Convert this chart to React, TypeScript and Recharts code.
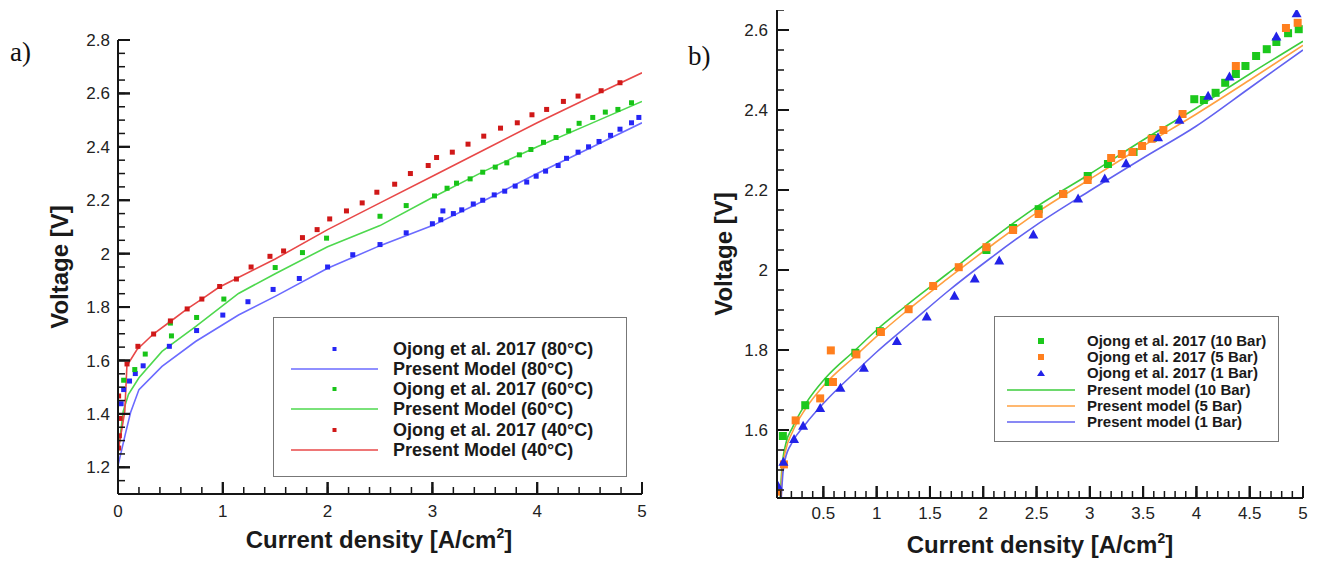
import React from "react";
import { ScatterChart, Scatter, XAxis, YAxis } from "recharts";

// ---------- Panel a data (temperature) ----------
const aExp80: [number, number][] = [
  [0.03, 1.438], [0.054, 1.491], [0.11, 1.523], [0.165, 1.551], [0.24, 1.58], [0.49, 1.653], [0.75, 1.712],
  [1.0, 1.77], [1.24, 1.82], [1.48, 1.866], [1.73, 1.907], [2.0, 1.95], [2.24, 1.996], [2.5, 2.034],
  [2.75, 2.078], [3.0, 2.112], [3.08, 2.127], [3.1, 2.16], [3.2, 2.15], [3.28, 2.164], [3.39, 2.186],
  [3.48, 2.2], [3.59, 2.22], [3.69, 2.234], [3.79, 2.253], [3.9, 2.268], [3.99, 2.29], [4.08, 2.309],
  [4.2, 2.33], [4.28, 2.357], [4.39, 2.38], [4.49, 2.4], [4.59, 2.42], [4.7, 2.443], [4.79, 2.466],
  [4.9, 2.49], [4.97, 2.51],
];
const aExp60: [number, number][] = [
  [0.054, 1.526], [0.16, 1.566], [0.26, 1.624], [0.5, 1.74], [0.51, 1.692], [0.75, 1.761], [1.01, 1.83],
  [1.5, 1.948], [1.76, 2.004], [1.99, 2.058], [2.5, 2.14], [2.75, 2.18], [3.02, 2.216], [3.14, 2.245],
  [3.23, 2.264], [3.36, 2.28], [3.48, 2.305], [3.6, 2.324], [3.71, 2.34], [3.83, 2.37], [3.94, 2.39],
  [4.06, 2.417], [4.18, 2.435], [4.3, 2.46], [4.4, 2.488], [4.53, 2.51], [4.65, 2.53], [4.77, 2.54],
  [4.9, 2.565],
];
const aExp40: [number, number][] = [
  [0.006, 1.272], [0.013, 1.318], [0.02, 1.383], [0.006, 1.467], [0.086, 1.587], [0.19, 1.653],
  [0.34, 1.699], [0.5, 1.748], [0.66, 1.793], [0.8, 1.83], [0.97, 1.877], [1.13, 1.905], [1.27, 1.95],
  [1.45, 1.99], [1.58, 2.01], [1.76, 2.06], [1.9, 2.09], [2.02, 2.13], [2.18, 2.16], [2.33, 2.19],
  [2.47, 2.23], [2.64, 2.26], [2.79, 2.3], [2.96, 2.33], [3.04, 2.36], [3.19, 2.38], [3.34, 2.41],
  [3.49, 2.44], [3.65, 2.47], [3.81, 2.49], [3.95, 2.52], [4.09, 2.54], [4.25, 2.57], [4.39, 2.59],
  [4.61, 2.61], [4.79, 2.64],
];
const aModel80: [number, number][] = [
  [0, 1.206], [0.07, 1.324], [0.12, 1.405], [0.2, 1.491], [0.42, 1.578], [0.74, 1.671], [1.15, 1.77],
  [1.5, 1.84], [2, 1.945], [2.5, 2.03], [3, 2.105], [3.5, 2.2], [4, 2.3], [4.5, 2.395], [5, 2.49],
];
const aModel60: [number, number][] = [
  [0, 1.25], [0.05, 1.41], [0.1, 1.473], [0.2, 1.535], [0.42, 1.634], [0.74, 1.727], [1.15, 1.851],
  [1.5, 1.925], [2, 2.026], [2.5, 2.105], [3, 2.21], [3.5, 2.31], [4, 2.4], [4.5, 2.485], [5, 2.57],
];
const aModel40: [number, number][] = [
  [0, 1.26], [0.04, 1.35], [0.065, 1.41], [0.085, 1.58], [0.18, 1.64], [0.34, 1.7], [0.5, 1.746],
  [0.66, 1.793], [0.8, 1.83], [0.96, 1.873], [1.12, 1.905], [1.5, 1.98], [2, 2.09], [2.5, 2.19],
  [3, 2.29], [3.5, 2.39], [4, 2.49], [4.5, 2.585], [5, 2.677],
];

// ---------- Panel b data (pressure) ----------
const bExp10: [number, number][] = [
  [0.12, 1.585], [0.33, 1.662], [0.55, 1.72], [0.8, 1.793], [1.03, 1.847], [2.03, 2.05], [2.28, 2.105],
  [2.52, 2.152], [2.75, 2.19], [2.98, 2.235], [3.17, 2.265], [3.41, 2.295], [3.59, 2.33], [3.98, 2.427],
  [4.07, 2.425], [4.18, 2.443], [4.27, 2.468], [4.37, 2.49], [4.46, 2.51], [4.56, 2.535], [4.66, 2.552],
  [4.75, 2.57], [4.86, 2.592], [4.96, 2.602],
];
const bExp5: [number, number][] = [
  [0.07, 1.446], [0.13, 1.514], [0.24, 1.624], [0.47, 1.679], [0.57, 1.799], [0.59, 1.72], [0.81, 1.789],
  [1.04, 1.845], [1.3, 1.902], [1.53, 1.96], [1.77, 2.007], [2.03, 2.057], [2.28, 2.1], [2.52, 2.14],
  [2.75, 2.19], [2.98, 2.225], [3.2, 2.28], [3.3, 2.29], [3.4, 2.295], [3.49, 2.31], [3.58, 2.328],
  [3.69, 2.35], [3.87, 2.39], [4.37, 2.51], [4.84, 2.605], [4.95, 2.618],
];
const bExp1: [number, number][] = [
  [0.07, 1.464], [0.125, 1.522], [0.225, 1.579], [0.31, 1.612], [0.47, 1.656], [0.66, 1.707],
  [0.88, 1.757], [1.19, 1.824], [1.47, 1.885], [1.73, 1.937], [1.92, 1.98], [2.15, 2.025], [2.47, 2.09],
  [2.89, 2.18], [3.14, 2.23], [3.34, 2.268], [3.64, 2.333], [3.84, 2.377], [4.11, 2.437], [4.31, 2.485],
  [4.75, 2.585], [4.94, 2.643],
];
const bModel10: [number, number][] = [
  [0.095, 1.43], [0.11, 1.5], [0.147, 1.565], [0.21, 1.606], [0.33, 1.664], [0.52, 1.73], [0.8, 1.8],
  [1.0, 1.85], [1.25, 1.905], [1.66, 1.99], [2.07, 2.075], [2.5, 2.158], [3, 2.24], [3.5, 2.325],
  [4, 2.405], [4.5, 2.49], [5, 2.572],
];
const bModel5: [number, number][] = [
  [0.1, 1.43], [0.115, 1.5], [0.147, 1.55], [0.21, 1.595], [0.33, 1.652], [0.52, 1.716], [0.8, 1.785],
  [1.0, 1.834], [1.27, 1.895], [1.66, 1.977], [2.07, 2.06], [2.5, 2.143], [3, 2.227], [3.5, 2.31],
  [4, 2.39], [4.5, 2.475], [5, 2.562],
];
const bModel1: [number, number][] = [
  [0.105, 1.43], [0.12, 1.49], [0.14, 1.525], [0.21, 1.57], [0.33, 1.614], [0.52, 1.672], [0.8, 1.745],
  [1.0, 1.795], [1.33, 1.87], [1.66, 1.945], [2.07, 2.03], [2.5, 2.113], [3, 2.198], [3.5, 2.28],
  [4, 2.36], [4.5, 2.455], [5, 2.55],
];

// ---------- Ticks ----------
const aXMajor = [0, 1, 2, 3, 4, 5];
const aYMajor = [1.2, 1.4, 1.6, 1.8, 2, 2.2, 2.4, 2.6, 2.8];
const bXMajor = [0.5, 1, 1.5, 2, 2.5, 3, 3.5, 4, 4.5, 5];
const bYMajor = [1.6, 1.8, 2, 2.2, 2.4, 2.6];

const range = (from: number, to: number, step: number) => {
  const out: number[] = [];
  const n = Math.round((to - from) / step);
  for (let i = 0; i <= n; i++) out.push(Math.round((from + i * step) * 1000) / 1000);
  return out;
};
const aXMinor = range(0, 5, 0.2);
const aYMinor = range(1.1, 2.8, 0.05);
const bXMinor = range(0.1, 5, 0.1);
const bYMinor = range(1.45, 2.65, 0.05);

const toXY = (arr: [number, number][]) => arr.map(([x, y]) => ({ x, y }));

const FONT = "Liberation Sans, Arial, Helvetica, sans-serif";
const AXIS_COLOR = "#151515";

const square = (size: number, color: string) => (p: any) =>
  <rect x={p.cx - size / 2} y={p.cy - size / 2} width={size} height={size} fill={color} />;
const triangle = (size: number, color: string) => (p: any) => {
  const h = size * 0.9;
  return (
    <path
      d={`M${p.cx},${p.cy - h / 2} L${p.cx + size / 2},${p.cy + h / 2} L${p.cx - size / 2},${p.cy + h / 2} Z`}
      fill={color}
    />
  );
};
const noShape = () => <g />;

// tick-mark shapes (placed at tick values through the chart scales, pointing into the plot)
const xTickMark = (len: number, w: number) => (p: any) =>
  <rect x={p.cx - w / 2} y={p.cy - len} width={w} height={len} fill={AXIS_COLOR} />;
const yTickMark = (len: number, w: number) => (p: any) =>
  <rect x={p.cx} y={p.cy - w / 2} width={len} height={w} fill={AXIS_COLOR} />;

const aSeries = [
  { name: "Ojong et al. 2017 (80°C)", data: aExp80, kind: "sq", color: "#2525f5" },
  { name: "Present Model (80°C)", data: aModel80, kind: "line", color: "#6b6bff" },
  { name: "Ojong et al. 2017 (60°C)", data: aExp60, kind: "sq", color: "#18c418" },
  { name: "Present Model (60°C)", data: aModel60, kind: "line", color: "#4ed84e" },
  { name: "Ojong et al. 2017 (40°C)", data: aExp40, kind: "sq", color: "#d01818" },
  { name: "Present Model (40°C)", data: aModel40, kind: "line", color: "#e84848" },
];
const bSeries = [
  { name: "Ojong et al. 2017 (10 Bar)", data: bExp10, kind: "sq", color: "#1cc81c" },
  { name: "Ojong et al. 2017 (5 Bar)", data: bExp5, kind: "sq", color: "#ff7f1e" },
  { name: "Ojong et al. 2017 (1 Bar)", data: bExp1, kind: "tri", color: "#2222e8" },
  { name: "Present model (10 Bar)", data: bModel10, kind: "line", color: "#3ccc3c" },
  { name: "Present model (5 Bar)", data: bModel5, kind: "line", color: "#ffa040" },
  { name: "Present model (1 Bar)", data: bModel1, kind: "line", color: "#6262f0" },
];

const renderSeries = (series: typeof aSeries, ptSize: number, smooth: boolean) => {
  const lines = series.filter((s) => s.kind === "line");
  const pts = series.filter((s) => s.kind !== "line");
  return [
    ...lines.map((s) => (
      <Scatter
        key={s.name}
        name={s.name}
        data={toXY(s.data)}
        line={{ stroke: s.color, strokeWidth: 1.6 }}
        lineType="joint"
        lineJointType={smooth ? "monotoneX" : "linear"}
        shape={noShape}
        isAnimationActive={false}
      />
    )),
    ...pts.map((s) => (
      <Scatter
        key={s.name}
        name={s.name}
        data={toXY(s.data)}
        shape={s.kind === "tri" ? triangle(ptSize + 2, s.color) : square(ptSize, s.color)}
        fill={s.color}
        isAnimationActive={false}
      />
    )),
  ];
};

const renderTickMarks = (xDomain: number[], yDomain: number[], xMajor: number[], xMinor: number[], yMajor: number[], yMinor: number[]) => [
  <Scatter key="xmin-ticks" data={xMinor.map((v) => ({ x: v, y: yDomain[0] }))} shape={xTickMark(7, 1.5)} fill={AXIS_COLOR} isAnimationActive={false} />,
  <Scatter key="xmaj-ticks" data={xMajor.map((v) => ({ x: v, y: yDomain[0] }))} shape={xTickMark(12, 2)} fill={AXIS_COLOR} isAnimationActive={false} />,
  <Scatter key="ymin-ticks" data={yMinor.map((v) => ({ x: xDomain[0], y: v }))} shape={yTickMark(7, 1.5)} fill={AXIS_COLOR} isAnimationActive={false} />,
  <Scatter key="ymaj-ticks" data={yMajor.map((v) => ({ x: xDomain[0], y: v }))} shape={yTickMark(12, 2)} fill={AXIS_COLOR} isAnimationActive={false} />,
];

const LegendBox = ({ series, left, top, width, height, rows, lineX1, lineX2, textX, fontSize, symSize }: any) => (
  <div
    style={{
      position: "absolute", left, top, width, height, border: "1px solid #777", boxSizing: "border-box",
      background: "#fff",
    }}
  >
    <svg width={width} height={height} style={{ position: "absolute", left: -1, top: -1 }}>
      {series.map((s: any, i: number) => {
        const cy = rows[i];
        const cx = (lineX1 + lineX2) / 2;
        return (
          <g key={s.name}>
            {s.kind === "line" && <line x1={lineX1} x2={lineX2} y1={cy} y2={cy} stroke={s.color} strokeWidth={1.6} />}
            {s.kind === "sq" && <rect x={cx - symSize / 2} y={cy - symSize / 2} width={symSize} height={symSize} fill={s.color} />}
            {s.kind === "tri" && (
              <path d={`M${cx},${cy - symSize / 2} L${cx + symSize / 2 + 1},${cy + symSize / 2} L${cx - symSize / 2 - 1},${cy + symSize / 2} Z`} fill={s.color} />
            )}
            <text x={textX} y={cy} dy="0.36em" fontSize={fontSize} fontWeight="bold" fill="#1a1a1a" fontFamily={FONT}>
              {s.name}
            </text>
          </g>
        );
      })}
    </svg>
  </div>
);

const axisLineStyle = { stroke: AXIS_COLOR, strokeWidth: 2 };
const tickText = { fontSize: 17, fill: "#222", fontFamily: FONT };

// Chart that carries the axis lines and tick labels (drawn over the data chart, same plot box)
const AxisChart = ({ width, height, margin, xDomain, yDomain, xMajor, yMajor, xGap, yGap, anchor }: any) => (
  <ScatterChart width={width} height={height} margin={margin}>
    <XAxis type="number" dataKey="x" domain={xDomain} ticks={xMajor} interval={0} height={1}
      tickSize={-12} tickMargin={xGap} tickLine={{ stroke: AXIS_COLOR, strokeWidth: 2 }}
      axisLine={axisLineStyle} tick={tickText} />
    <YAxis type="number" dataKey="y" domain={yDomain} ticks={yMajor} interval={0} width={1}
      tickSize={-12} tickMargin={yGap} tickLine={{ stroke: AXIS_COLOR, strokeWidth: 2 }}
      axisLine={axisLineStyle} tick={tickText} />
    <Scatter data={toXY(anchor)} shape={noShape} isAnimationActive={false} />
  </ScatterChart>
);

const titleStyle: React.CSSProperties = {
  position: "absolute", fontFamily: FONT, fontWeight: "bold", fontSize: 24, color: "#1a1a1a",
  whiteSpace: "nowrap", lineHeight: "28px",
};

export default function App() {
  return (
    <div style={{ position: "absolute", left: 0, top: 0, width: 1317, height: 561, background: "#fff" }}>
      {/* Titles */}
      <div style={{ position: "absolute", left: 10, top: 36, fontFamily: "Liberation Serif, Times New Roman, serif", fontSize: 27, color: "#111", lineHeight: "32px" }}>a)</div>
      <div style={{ position: "absolute", left: 688, top: 40, fontFamily: "Liberation Serif, Times New Roman, serif", fontSize: 27, color: "#111", lineHeight: "32px" }}>b)</div>
      <div style={{ ...titleStyle, left: 179, top: 526, width: 400, textAlign: "center" }}>
        Current density [A/cm<sup style={{ fontSize: 14, verticalAlign: "10px", lineHeight: 0 }}>2</sup>]
      </div>
      <div style={{ ...titleStyle, left: 840, top: 531, width: 400, textAlign: "center" }}>
        Current density [A/cm<sup style={{ fontSize: 14, verticalAlign: "10px", lineHeight: 0 }}>2</sup>]
      </div>
      <div style={{ ...titleStyle, left: 60 - 100, top: 267 - 14, width: 200, textAlign: "center", transform: "rotate(-90deg)" }}>
        Voltage [V]
      </div>
      <div style={{ ...titleStyle, left: 724 - 100, top: 254 - 14, width: 200, textAlign: "center", transform: "rotate(-90deg)" }}>
        Voltage [V]
      </div>

      {/* Panel a: data + tick marks */}
      <div style={{ position: "absolute", left: 0, top: 0 }}>
        <ScatterChart width={700} height={561} margin={{ top: 40, left: 118, right: 58, bottom: 67 }}>
          <XAxis type="number" dataKey="x" domain={[0, 5]} hide allowDataOverflow />
          <YAxis type="number" dataKey="y" domain={[1.1, 2.8]} hide allowDataOverflow />
          {renderSeries(aSeries, 5, false)}
          {renderTickMarks([0, 5], [1.1, 2.8], aXMajor, aXMinor, aYMajor, aYMinor)}
        </ScatterChart>
      </div>
      {/* Panel b: data + tick marks */}
      <div style={{ position: "absolute", left: 660, top: 0 }}>
        <ScatterChart width={657} height={561} margin={{ top: 10, left: 117, right: 14, bottom: 63 }}>
          <XAxis type="number" dataKey="x" domain={[0.065, 5]} hide allowDataOverflow />
          <YAxis type="number" dataKey="y" domain={[1.43, 2.65]} hide allowDataOverflow />
          {renderSeries(bSeries, 8, true)}
          {renderTickMarks([0.065, 5], [1.43, 2.65], bXMajor, bXMinor, bYMajor, bYMinor)}
        </ScatterChart>
      </div>

      <LegendBox
        series={aSeries} left={273} top={317} width={354} height={160}
        rows={[32, 52, 72, 92, 113, 133]} lineX1={18} lineX2={105} textX={120} fontSize={18} symSize={4}
      />
      <LegendBox
        series={bSeries} left={994} top={316} width={285} height={126}
        rows={[25, 41, 57, 74, 90, 106]} lineX1={13} lineX2={81} textX={93} fontSize={15} symSize={6}
      />

      {/* Panel a: axes */}
      <div style={{ position: "absolute", left: 0, top: 0 }}>
        <AxisChart width={700} height={561} margin={{ top: 40, left: 117, right: 58, bottom: 66 }}
          xDomain={[0, 5]} yDomain={[1.1, 2.8]} xMajor={aXMajor} yMajor={aYMajor}
          xGap={23} yGap={20} anchor={aModel80} />
      </div>
      {/* Panel b: axes */}
      <div style={{ position: "absolute", left: 660, top: 0 }}>
        <AxisChart width={657} height={561} margin={{ top: 10, left: 116, right: 14, bottom: 62 }}
          xDomain={[0.065, 5]} yDomain={[1.43, 2.65]} xMajor={bXMajor} yMajor={bYMajor}
          xGap={21} yGap={21} anchor={bModel1} />
      </div>
    </div>
  );
}
